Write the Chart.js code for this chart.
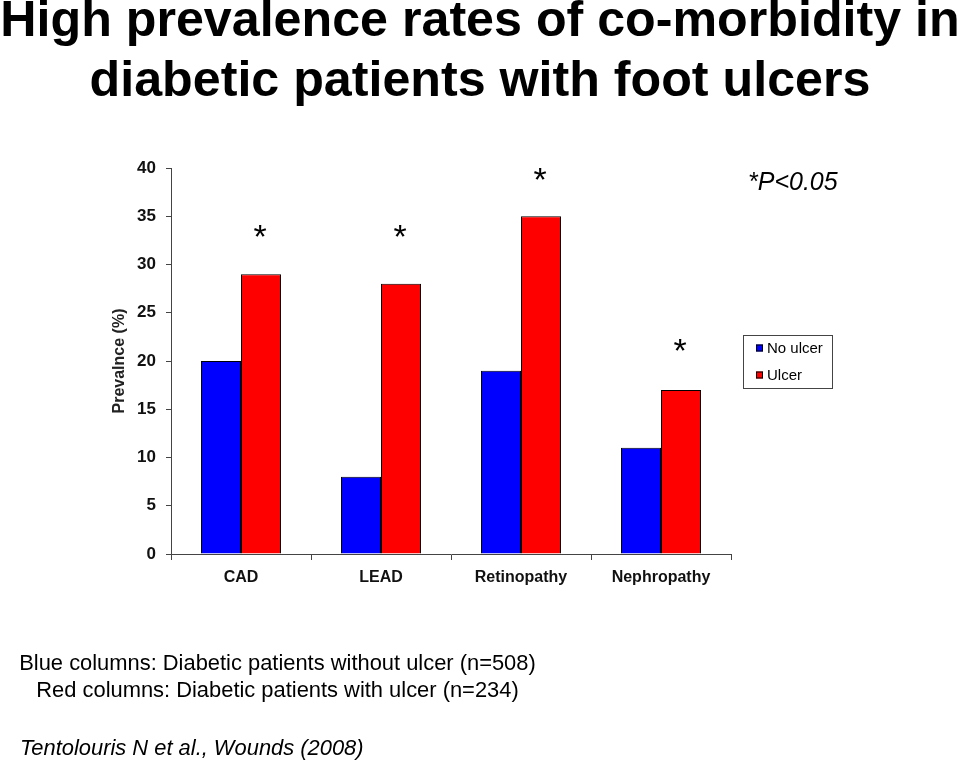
<!DOCTYPE html>
<html>
<head>
<meta charset="utf-8">
<script src="https://cdn.jsdelivr.net/npm/chart.js@4/dist/chart.umd.min.js"></script>
<style>
  html, body { margin: 0; padding: 0; background: #fff; }
  body { width: 960px; height: 769px; position: relative; overflow: hidden; font-family: "Liberation Sans", Arial, sans-serif; }
  #c { position: absolute; left: 0; top: 0; }
  .title { position: absolute; left: 0; top: -11.3px; width: 960px; text-align: center; font-weight: bold; font-size: 50.2px; line-height: 60px; color: #000; white-space: nowrap; }
  .pnote { position: absolute; left: 748px; top: 169px; font-style: italic; font-size: 25px; line-height: 25px; color: #000; white-space: nowrap; }
  .notes { position: absolute; left: 0; top: 649px; width: 555px; text-align: center; font-size: 21.9px; line-height: 27px; color: #000; white-space: nowrap; }
  .cite { position: absolute; left: 20px; top: 734px; font-style: italic; font-size: 21.9px; line-height: 27px; color: #000; white-space: nowrap; }
</style>
</head>
<body>
<div class="title">High prevalence rates of co-morbidity in<br>diabetic patients with foot ulcers</div>
<canvas id="c" width="960" height="769"></canvas>
<div class="pnote">*P&lt;0.05</div>
<div class="notes">Blue columns: Diabetic patients without ulcer (n=508)<br>Red columns: Diabetic patients with ulcer (n=234)</div>
<div class="cite">Tentolouris N et al., Wounds (2008)</div>
<script>
const categories = ['CAD', 'LEAD', 'Retinopathy', 'Nephropathy'];
const noUlcer = [20, 8, 19, 11];
const ulcer = [29, 28, 35, 17];
const seriesNames = ['No ulcer', 'Ulcer'];
const yTicks = [0, 5, 10, 15, 20, 25, 30, 35, 40];
const sigLevels = [33.3, 33.3, 39.2, 21.5];
const sigMark = '*';
const yTitle = 'Prevalnce (%)';

const FONT = '"Liberation Sans", Arial, sans-serif';

const sigPlugin = {
  id: 'sig',
  afterDatasetsDraw(chart) {
    const ctx = chart.ctx;
    const meta = chart.getDatasetMeta(1);
    const ys = chart.scales.y;
    const size = 34;
    ctx.save();
    ctx.font = size + 'px ' + FONT;
    ctx.fillStyle = '#000';
    ctx.textAlign = 'center';
    ctx.textBaseline = 'alphabetic';
    sigLevels.forEach((v, i) => {
      const bar = meta.data[i];
      const y = ys.getPixelForValue(v);
      ctx.fillText(sigMark, bar.x - 1, y + 0.46 * size);
    });
    ctx.restore();
  }
};

const legendPlugin = {
  id: 'boxLegend',
  afterDraw(chart) {
    const ctx = chart.ctx;
    const a = chart.chartArea;
    const x0 = a.right + 12, w = 89, h = 53;
    const cy = (a.top + a.bottom) / 2;
    const y0 = Math.round(cy - h / 2) + 0.5;
    ctx.save();
    ctx.strokeStyle = '#444';
    ctx.lineWidth = 1;
    ctx.strokeRect(x0 + 0.5, y0, w, h);
    ctx.font = '15px ' + FONT;
    ctx.textBaseline = 'middle';
    chart.data.datasets.forEach((ds, i) => {
      const yy = y0 + 13 + i * 27;
      ctx.fillStyle = ds.backgroundColor;
      ctx.fillRect(x0 + 13, yy - 4, 7, 7);
      ctx.strokeStyle = '#000';
      ctx.strokeRect(x0 + 13.5, yy - 3.5, 6, 6);
      ctx.fillStyle = '#000';
      ctx.fillText(ds.label, x0 + 24, yy);
    });
    ctx.restore();
  }
};

new Chart(document.getElementById('c'), {
  type: 'bar',
  data: {
    labels: categories,
    datasets: [
      { label: seriesNames[0], data: noUlcer, backgroundColor: '#0000FF', borderColor: '#000', borderWidth: 1 },
      { label: seriesNames[1], data: ulcer, backgroundColor: '#FF0000', borderColor: '#000', borderWidth: 1 }
    ]
  },
  options: {
    responsive: false,
    devicePixelRatio: 1,
    animation: false,
    layout: { padding: { top: 168, left: 106, right: 229, bottom: 175 } },
    datasets: { bar: { categoryPercentage: 80 / 140, barPercentage: 1.0 } },
    plugins: { legend: { display: false }, tooltip: { enabled: false } },
    scales: {
      x: {
        afterFit(s) { s.height = 40; },
        grid: { display: true, drawOnChartArea: false, tickLength: 6, color: '#444', offset: true },
        border: { color: '#444', width: 1 },
        ticks: { color: '#111', padding: 8, font: { family: FONT, size: 16, weight: 'bold' } }
      },
      y: {
        min: 0, max: 40,
        afterFit(s) { s.width = 65; },
        afterBuildTicks(s) { s.ticks = yTicks.map(v => ({ value: v })); },
        grid: { display: true, drawOnChartArea: false, tickLength: 5, color: '#444' },
        border: { color: '#444', width: 1 },
        ticks: { color: '#111', padding: 10, font: { family: FONT, size: 17, weight: 'bold' } },
        title: { display: true, text: yTitle, color: '#222', padding: { top: 4, bottom: 4 }, font: { family: FONT, size: 16, weight: 'bold' } }
      }
    }
  },
  plugins: [sigPlugin, legendPlugin]
});
</script>
</body>
</html>
